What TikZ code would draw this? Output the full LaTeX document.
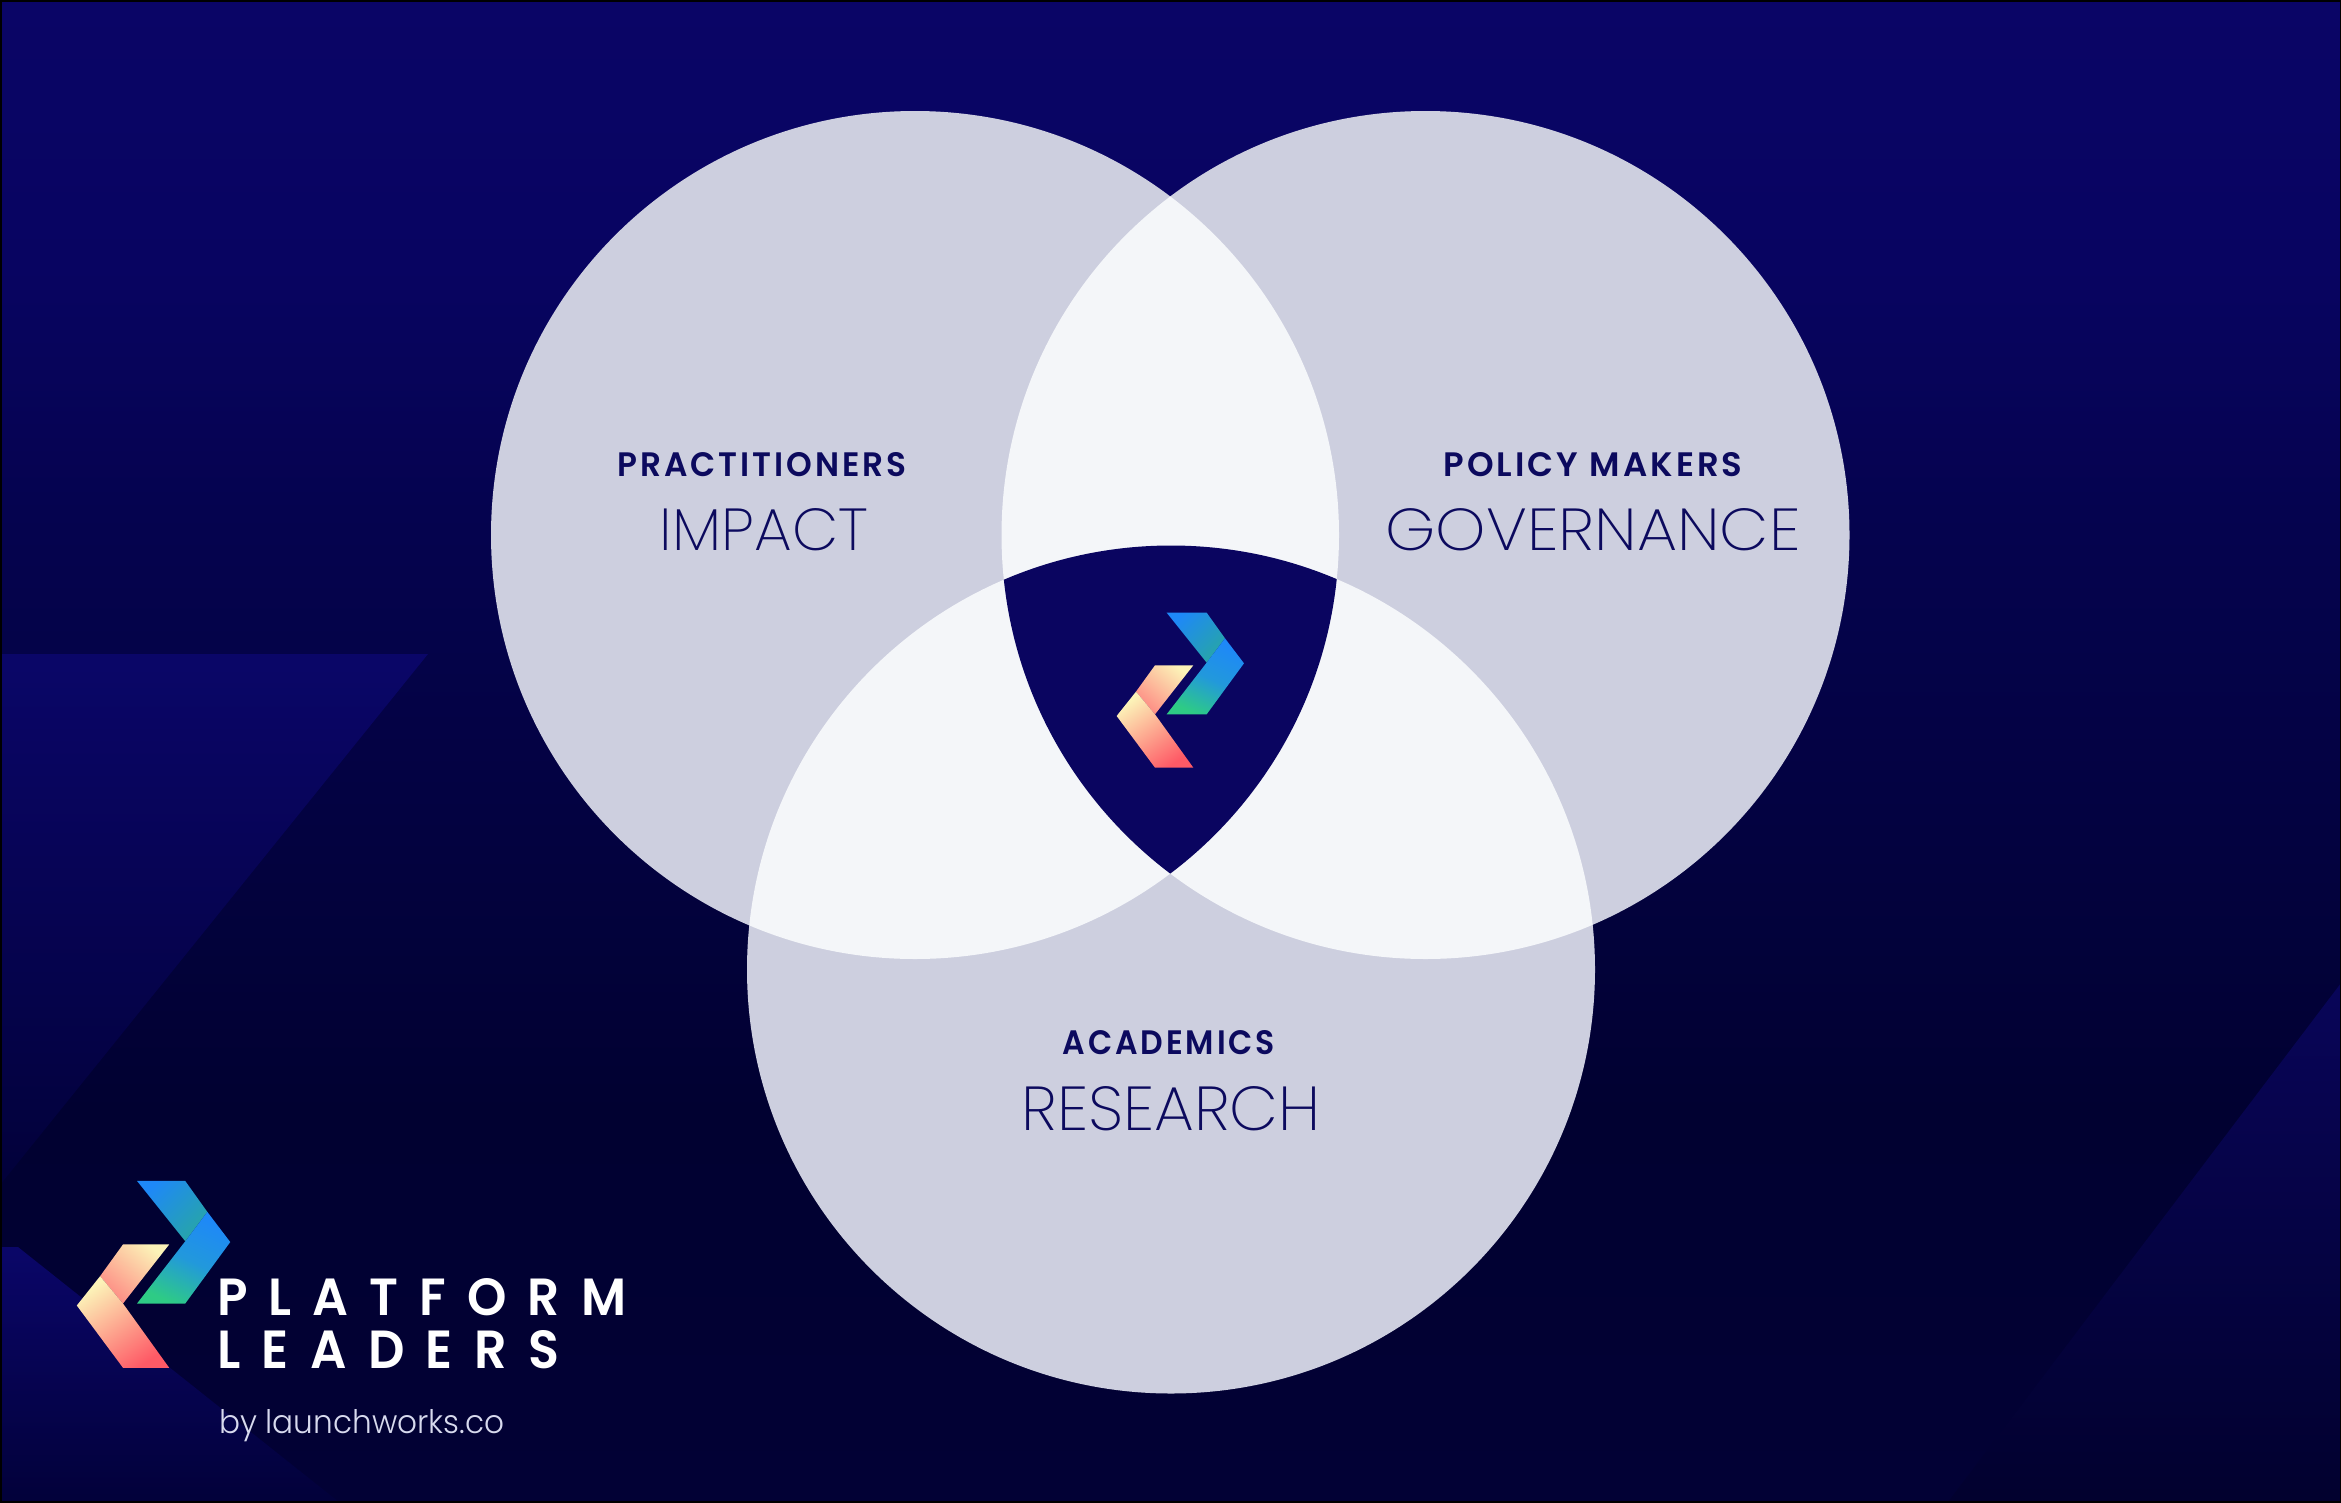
\documentclass[tikz,border=0pt]{standalone}
\usepackage{fontspec}
\setmainfont{Poppins}
\newfontfamily\pbold{Poppins}[UprightFont=* SemiBold,LetterSpace=9]
\newfontfamily\plight{Poppins}[UprightFont=* ExtraLight]
\newfontfamily\psmall{Poppins}[UprightFont=* Light]
\newfontfamily\pbig{Poppins}[UprightFont=* SemiBold,LetterSpace=42]
\usetikzlibrary{calc}
\definecolor{shapeA}{HTML}{0A0668}
\definecolor{shapeEnd}{HTML}{02013A}
\definecolor{oneset}{HTML}{CDCFDF}
\definecolor{twoset}{HTML}{F4F6F9}
\definecolor{threeset}{HTML}{0A0560}
\definecolor{ink}{HTML}{0C0A5E}
\definecolor{subtle}{HTML}{D8DAEE}
\definecolor{lbluea}{HTML}{1E88F8}
\definecolor{lteal}{HTML}{27A5A8}
\definecolor{lgreen}{HTML}{2ECB85}
\definecolor{lcream}{HTML}{FCF3B8}
\definecolor{lpink}{HTML}{FD8C84}
\definecolor{lred}{HTML}{FE5A66}
\pgfdeclareverticalshading{pagebg}{100bp}{
  rgb(0bp)=(0.008,0.004,0.208);
  rgb(25bp)=(0.008,0.004,0.208);
  rgb(38bp)=(0.004,0.004,0.192);
  rgb(47bp)=(0.012,0.008,0.250);
  rgb(58bp)=(0.020,0.012,0.310);
  rgb(66bp)=(0.031,0.016,0.380);
  rgb(75bp)=(0.039,0.020,0.400);
  rgb(100bp)=(0.039,0.020,0.400)}
\tikzset{
  x=1pt,y=-1pt,
  vennc/.style={fill=oneset},
  head/.style={inner sep=0,anchor=base,text=ink},
  footer/.style={inner sep=0,anchor=base west,text=white},
}
\newcommand{\fit}[3]{\resizebox{#1pt}{#2pt}{#3}}
\newcommand{\logomark}[3]{%
 \begin{scope}[shift={(#1,#2)},x=#3pt,y=-#3pt]
  \shade[top color=lbluea,bottom color=lteal,shading angle=45] (560,278)--(680,278)--(735,355)--(680,428)--cycle;
  \shade[top color=lbluea,bottom color=lgreen,middle color=lbluea!75!lgreen,shading angle=-25] (735,355)--(792,430)--(680,583)--(560,583)--(680,428)--cycle;
  \shade[top color=lcream,bottom color=lpink,shading angle=-40] (640,436)--(525,436)--(468,515)--(525,583)--cycle;
  \shade[top color=lcream,bottom color=lred,shading angle=35] (468,515)--(410,588)--(525,743)--(640,743)--(525,583)--cycle;
 \end{scope}}
\begin{document}
\begin{tikzpicture}
\useasboundingbox (0,0) rectangle (2341,1502);
\shade[shading=pagebg] (0,0) rectangle (2341,1502);
% faint background shapes
\shade[top color=shapeA,bottom color=shapeEnd] (0,654)--(428,654)--(0,1185)--cycle;
\shade[top color=shapeA,bottom color=shapeEnd] (0,1247)--(18,1247)--(339,1502)--(0,1502)--cycle;
\shade[top color=shapeA!85!black,bottom color=shapeEnd!80!black] (2341,983)--(2341,1502)--(1948,1502)--cycle;
% Venn diagram
\coordinate (cl) at (915,535);
\coordinate (cr) at (1425.5,535);
\coordinate (cb) at (1171,969.5);
\def\rad{424}
\fill[vennc] (cl) circle (\rad);
\fill[vennc] (cr) circle (\rad);
\fill[vennc] (cb) circle (\rad);
\begin{scope}
 \clip (cl) circle (\rad); \fill[twoset] (cr) circle (\rad);
\end{scope}
\begin{scope}
 \clip (cl) circle (\rad); \fill[twoset] (cb) circle (\rad);
\end{scope}
\begin{scope}
 \clip (cr) circle (\rad); \fill[twoset] (cb) circle (\rad);
\end{scope}
\begin{scope}
 \clip (cl) circle (\rad); \clip (cr) circle (\rad); \fill[threeset] (cb) circle (\rad);
\end{scope}
\logomark{980}{520}{0.3333}
\logomark{-87.9}{1069.3}{0.4017}
% labels
\node[head] (practitioners) at (762,476) {\fit{289}{24}{\pbold PRACTITIONERS}};
\node[head] (impact) at (764,550) {\fit{208}{42}{\plight IMPACT}};
\node[head] (policy) at (1593,476) {\fit{299}{24}{\pbold POLICY MAKERS}};
\node[head] (governance) at (1593,550) {\fit{415}{42}{\plight GOVERNANCE}};
\node[head] (academics) at (1169,1054) {\fit{212}{24}{\pbold ACADEMICS}};
\node[head] (research) at (1171,1130) {\fit{299}{44}{\plight RESEARCH}};
\node[footer] (platform) at (217,1315) {\fit{409}{37}{\pbig PLATFORM}};
\node[footer] (leaders) at (217,1368) {\fit{342}{38}{\pbig LEADERS}};
\node[footer,text=subtle] (by) at (219,1433) {\fit{285}{24}{\psmall by launchworks.co}};
% frame
\draw[black,line width=3] (0,0) rectangle (2341,1502);
\end{tikzpicture}
\end{document}
